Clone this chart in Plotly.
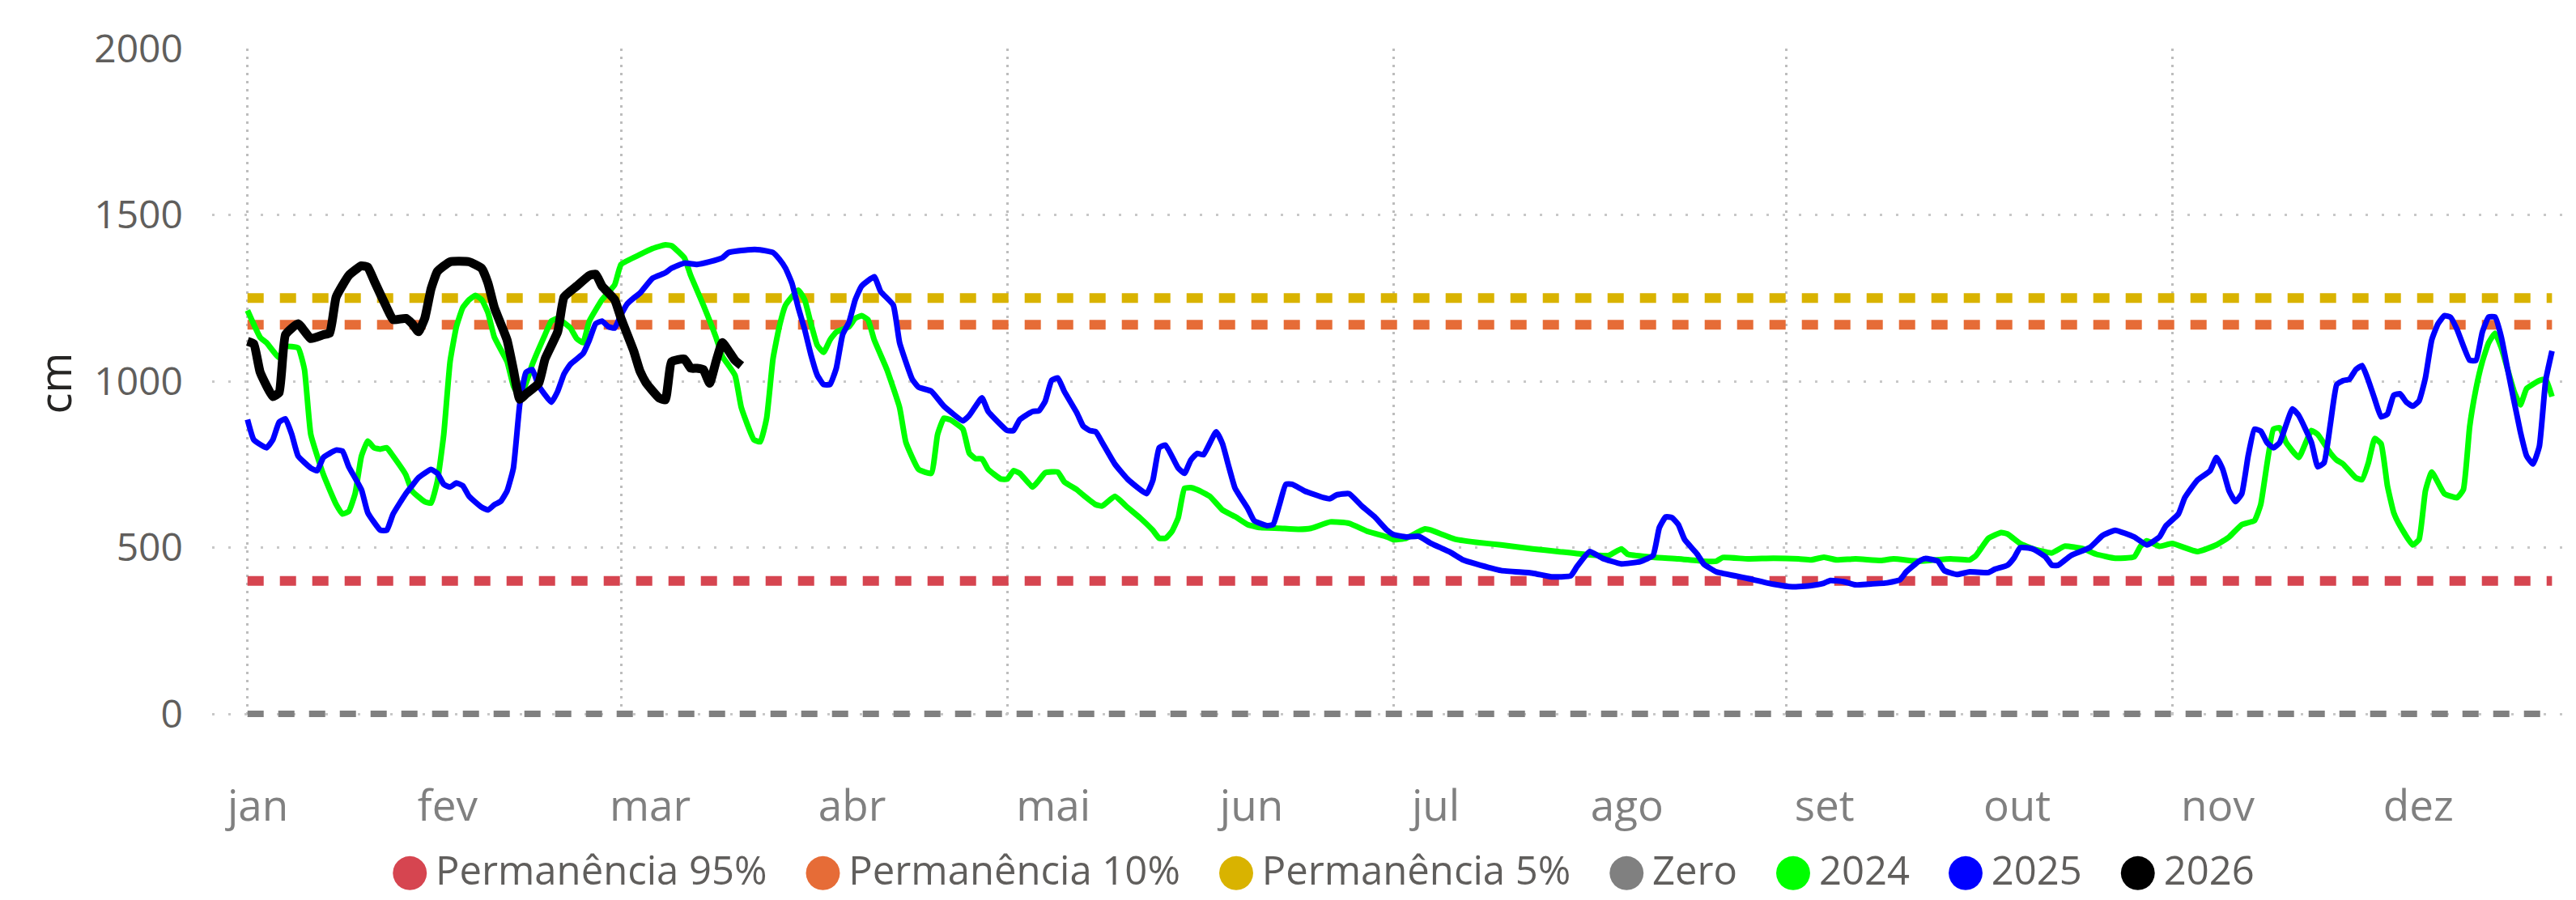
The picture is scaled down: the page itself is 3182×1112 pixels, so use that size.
import pandas as pd
import plotly.graph_objects as go

# ---------------- data (day of year: 0 = 1 jan) ----------------
meses = ["jan", "fev", "mar", "abr", "mai", "jun", "jul", "ago", "set", "out", "nov", "dez"]
dias_rotulos = [1.65, 31.6, 63.6, 95.5, 127.3, 158.6, 187.7, 217.9, 249.1, 279.5, 311.2, 342.9]
dias_grade = [0, 59, 120, 181, 243, 304]

dias_ref = [0, 364]
perm95 = [400, 400]
perm10 = [1170, 1170]
perm5 = [1250, 1250]
zero = [0, 0]

dias_2024 = [0, 2, 3, 5, 6, 8, 9, 10, 12, 14, 15, 16, 17, 18, 19, 20, 21, 22, 23, 25, 26, 28, 29, 30, 31,
             32, 33, 34, 35, 36, 37, 38, 39, 41, 42, 43, 44, 45, 47, 48, 49, 51, 52, 53, 54, 56, 58, 59, 62,
             64, 66, 67, 69, 70, 72, 74, 75, 77, 78, 80, 81, 82, 83, 84, 85, 87, 88, 89, 90, 91, 92, 93, 95,
             96, 97, 98, 99, 101, 103, 104, 106, 108, 109, 110, 111, 113, 114, 115, 116, 117, 119, 120, 121,
             122, 124, 125, 126, 128, 129, 131, 132, 134, 135, 137, 139, 141, 143, 144, 145, 146, 147, 148,
             149, 150, 152, 154, 156, 158, 160, 163, 166, 168, 171, 174, 177, 180, 181, 183, 185, 186, 187,
             190, 191, 194, 198, 203, 207, 211, 215, 217, 218, 222, 226, 230, 232, 233, 237, 241, 245, 247,
             249, 251, 254, 258, 260, 264, 269, 272, 273, 275, 277, 278, 280, 282, 285, 287, 290, 292, 295,
             298, 299, 300, 302, 304, 308, 311, 313, 315, 317, 318, 320, 321, 322, 324, 326, 327, 329, 330,
             331, 333, 334, 335, 336, 337, 338, 339, 340, 342, 343, 344, 345, 347, 349, 350, 351, 352, 353,
             354, 355, 356, 358, 359, 360, 362, 363, 364]
nivel_2024 = [1213, 1132, 1116, 1071, 1104, 1100, 1035, 840, 719, 630, 601, 609, 662, 775, 820, 800, 796, 800,
              775, 719, 670, 638, 634, 700, 840,
              1059, 1164, 1221, 1245, 1258, 1245, 1205, 1132, 1059, 986, 954, 994, 1051, 1140, 1181, 1189,
              1160, 1128, 1116, 1181, 1245, 1290, 1351, 1381,
              1399, 1410, 1407, 1371, 1318, 1229, 1132, 1075, 1018, 921, 824, 818, 889, 1067, 1164, 1229,
              1274, 1245, 1173, 1108, 1087, 1124, 1148, 1164,
              1189, 1197, 1185, 1124, 1035, 921, 816, 735, 723, 840, 889, 884, 856, 784, 767, 767, 735, 706,
              706, 731,
              723, 682, 702, 725, 727, 698, 674, 658, 629, 625, 654, 621, 589, 552, 528, 528, 548, 589, 678,
              680, 674, 654, 613, 593, 569, 560, 558, 555, 558, 577, 573, 548, 532, 524, 528, 548, 556, 552,
              530, 524, 516, 508, 496, 488, 480, 476, 496, 480, 471, 466, 459, 459, 470, 466, 468, 466, 463,
              471, 463, 466, 461, 466, 459, 466, 463, 476, 528, 545, 541, 512, 496, 484, 504, 496, 480, 468,
              472, 504, 520, 504, 512, 488, 508, 532, 569, 581, 630, 856, 860, 816, 771, 852, 840, 784, 763,
              751, 710, 704, 755, 828, 812, 686, 605, 565, 508, 524, 670, 727, 662, 650, 674, 864, 978, 1059,
              1116, 1144, 1100, 970, 929, 978, 1002, 1006, 954]

dias_2025 = [0, 1, 3, 4, 5, 6, 7, 8, 10, 11, 12, 14, 15, 16, 18, 19, 21, 22, 23, 25, 26, 27, 29, 30, 31, 32,
             33, 34, 35, 37, 38, 39, 40, 41, 42, 43, 44, 45, 46, 48, 49, 50, 51, 53, 54, 55, 56, 57, 58, 59,
             60, 61, 62, 64, 66, 67, 69, 71, 73, 75, 76, 79, 81, 83, 84, 85, 86, 87, 88, 89, 90, 91, 92, 93,
             94, 95, 96, 97, 99, 100, 102, 103, 105, 106, 108, 110, 113, 114, 116, 117, 120, 121, 122, 124,
             125, 126, 127, 128, 129, 131, 132, 133, 134, 135, 137, 139, 142, 143, 144, 145, 147, 148, 149,
             150, 151, 153, 154, 155, 156, 158, 159, 161, 162, 163, 164, 165, 167, 170, 171, 172, 174, 176,
             178, 180, 181, 183, 185, 187, 190, 192, 194, 198, 203, 206, 209, 210, 212, 214, 217, 220, 222,
             223, 224, 225, 226, 227, 229, 230, 232, 235, 237, 241, 244, 247, 249, 250, 252, 254, 256, 259,
             261, 262, 264, 265, 267, 268, 270, 272, 275, 276, 278, 279, 280, 282, 284, 285, 286, 288, 291,
             293, 295, 298, 300, 302, 303, 305, 306, 308, 310, 311, 312, 313, 314, 315, 316, 317, 318, 319,
             320, 321, 323, 324, 326, 327, 328, 329, 330, 331, 332, 333, 334, 335, 336, 337, 338, 339, 340,
             341, 342, 343, 344, 345, 346, 347, 348, 349, 351, 352, 353, 354, 355, 356, 357, 359, 360, 361,
             362, 363, 364]
nivel_2025 = [885, 824, 800, 824, 877, 887, 840, 775, 739, 731, 771, 793, 790, 743, 674, 605, 552, 552, 601,
              662, 686, 710, 735, 723, 690, 682,
              694, 686, 654, 621, 613, 629, 639, 670, 739, 930, 1027, 1035, 986, 937, 970, 1022, 1051, 1083,
              1124, 1173, 1181, 1164, 1160, 1200,
              1233, 1250, 1265, 1310, 1326, 1340, 1355, 1351, 1359, 1371, 1387, 1395, 1395, 1387, 1367, 1339,
              1294, 1221, 1156, 1079, 1018, 990, 990, 1039,
              1140, 1177, 1245, 1286, 1314, 1270, 1229, 1116, 1006, 982, 970, 925, 881, 897, 950, 909, 852,
              852, 885, 909,
              911, 940, 1002, 1010, 970, 905, 865, 852, 848, 816, 751, 706, 662, 702, 800, 808, 739, 723, 763,
              783, 779, 848, 812, 743, 678, 617, 581, 566, 569, 629, 690, 690, 670, 650, 647, 658, 662, 625,
              593, 552, 539, 532, 534, 512, 486, 463, 451, 431, 423, 412, 415, 443, 488, 468, 451, 458, 476,
              560, 592, 590, 569, 524, 480, 451, 427, 415, 407, 390, 382, 386, 393, 401, 398, 388, 390, 394,
              403, 427, 459, 467, 459, 431, 419, 427, 425, 435, 447, 468, 500, 496, 472, 447, 447, 476, 500,
              536, 552, 532, 508, 532, 565, 601, 650, 703, 731, 771, 735, 670, 638, 662, 775, 856, 850, 815,
              800, 816, 917, 897, 816, 743, 755, 872, 990, 1002, 1006, 1035, 1047, 1002, 946, 893, 901, 958,
              962,
              937, 925, 941, 1010, 1124, 1173, 1197, 1192, 1156, 1063, 1063, 1148, 1193, 1193, 1132, 1035,
              848, 775, 751,
              804, 1002, 1091]

dias_2026 = [0, 1, 2, 4, 5, 6, 8, 10, 12, 13, 14, 16, 18, 19, 20, 22, 23, 25, 26, 27, 28, 29, 30, 32, 35,
             37, 38, 39, 41, 42, 43, 44, 46, 47, 49, 50, 52, 54, 55, 56, 58, 59, 61, 62, 63, 65, 66, 67, 69,
             70, 71, 72, 73, 74, 75, 76, 77, 78]
nivel_2026 = [1120, 1112, 1027, 954, 966, 1140, 1173, 1128, 1140, 1145, 1253, 1318, 1347, 1343, 1302, 1221,
              1185, 1189, 1173, 1149, 1189, 1278, 1330, 1359, 1359,
              1339, 1294, 1221, 1124, 1035, 946, 962, 994, 1067, 1149, 1253, 1286, 1318, 1322, 1286, 1245,
              1189, 1091, 1030, 994, 950, 944, 1059, 1067,
              1039, 1039, 1035, 994, 1059, 1116, 1091, 1063, 1047]

# ---------------- helpers ----------------
base = pd.Timestamp("2025-01-01")


def to_date(days):
    return [base + pd.Timedelta(days=float(d)) for d in days]


FONT = "Open Sans, Noto Sans, sans-serif"

fig = go.Figure()

refs = [
    ("Permanência 95%", perm95, "#D64550", 12, "20px,20px"),
    ("Permanência 10%", perm10, "#E66C37", 12, "20px,20px"),
    ("Permanência 5%", perm5, "#D9B300", 12, "20px,20px"),
    ("Zero", zero, "#808080", 8, "20px,18px"),
]
for name, vals, color, w, dash in refs:
    fig.add_trace(go.Scatter(x=to_date(dias_ref), y=vals, mode="lines", name=name, legendgroup=name,
                             showlegend=False, line=dict(color=color, width=w, dash=dash),
                             hoverinfo="skip"))

series = [
    ("2024", dias_2024, nivel_2024, "#00FF00", 7),
    ("2025", dias_2025, nivel_2025, "#0000FF", 7),
    ("2026", dias_2026, nivel_2026, "#000000", 11),
]
for name, d, v, color, w in series:
    fig.add_trace(go.Scatter(x=to_date(d), y=v, mode="lines", name=name, legendgroup=name,
                             showlegend=False, line=dict(color=color, width=w, shape="spline", smoothing=0.4)))

# legend entries: large filled circle glyph before each label
legend_items = [("Permanência 95%", "#D64550"), ("Permanência 10%", "#E66C37"),
                ("Permanência 5%", "#D9B300"), ("Zero", "#808080"),
                ("2024", "#00FF00"), ("2025", "#0000FF"), ("2026", "#000000")]
for name, color in legend_items:
    label = (f'<span style="color:{color};font-family:DejaVu Sans;font-size:55px">●</span>'
             f'<span style="font-size:30px"> </span>{name}')
    fig.add_trace(go.Scatter(x=[None], y=[None], mode="none", name=label, legendgroup=name,
                             showlegend=True, hoverinfo="skip"))

x_range = [base + pd.Timedelta(days=-5.59), base + pd.Timedelta(days=366.0)]

fig.update_layout(
    width=3182, height=1112,
    margin=dict(l=262, r=14, t=60, b=225, autoexpand=False),
    paper_bgcolor="white", plot_bgcolor="white",
    font=dict(family=FONT, color="#605E5C"),
    showlegend=True,
    legend=dict(orientation="h", x=0.062, xanchor="left", y=-0.2265, yanchor="middle",
                font=dict(size=49, color="#605E5C", family=FONT), bgcolor="rgba(0,0,0,0)",
                itemclick=False, itemdoubleclick=False),
    xaxis=dict(
        type="date", range=x_range,
        tickmode="array", tickvals=to_date(dias_rotulos), ticktext=meses,
        tickfont=dict(size=53, color="#808080", family=FONT),
        showgrid=False, zeroline=False, showline=False, ticks="",
        ticklabelstandoff=73,
        minor=dict(tickmode="array", tickvals=to_date(dias_grade), showgrid=True,
                   gridcolor="#BDBDBD", gridwidth=3, griddash="3px,7px", ticks=""),
    ),
    yaxis=dict(
        range=[-12, 2000], tickmode="array", tickvals=[0, 500, 1000, 1500, 2000],
        tickfont=dict(size=48, color="#605E5C", family=FONT),
        showgrid=True, gridcolor="#C8C8C8", gridwidth=3, griddash="3px,17px",
        zeroline=False, showline=False, ticks="", ticklabelstandoff=35,
        title=dict(text="cm", font=dict(size=54, color="#252423", family=FONT), standoff=10),
    ),
)

fig.write_html("out.html",
               config={"displayModeBar": False},
               post_script="document.body.style.margin='0px';document.body.style.padding='0px';")
